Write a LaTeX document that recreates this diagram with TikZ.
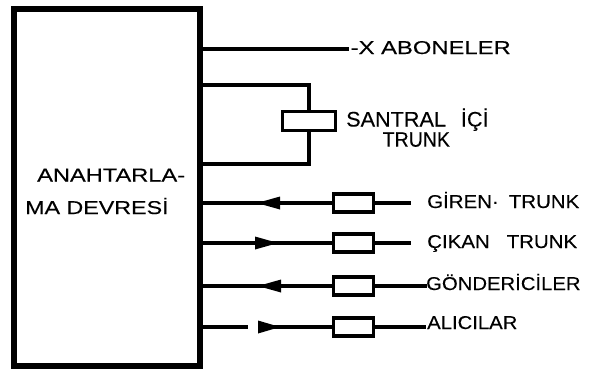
\documentclass[tikz,border=0pt]{standalone}
\usepackage{fontspec}
\setmainfont{Liberation Sans}
\begin{document}
\begin{tikzpicture}[x=1pt,y=-1pt,
  lab/.style={font=\fontsize{18.6}{20}\selectfont\addfontfeatures{FakeStretch=#1,FakeBold=0.2}, inner sep=0pt, anchor=base west},
  labbig/.style={font=\fontsize{21}{23}\selectfont\addfontfeatures{FakeStretch=#1,FakeBold=0.2}, inner sep=0pt, anchor=base west},
  lab/.default=1,
  wire/.style={line width=3.6pt},
  tbox/.style={draw, line width=3.6pt, minimum width=40pt, minimum height=18pt, inner sep=0pt},
  head/.style={fill=black}]
\useasboundingbox (0,0) rectangle (593,373);
% main switching block
\node[draw, line width=5.5pt, minimum width=186pt, minimum height=357pt, inner sep=0pt] (sw) at (107,187.5) {};
\node[lab=1.27] (t1) at (37,181.5) {ANAHTARLA-};
\node[lab=1.25] (t2) at (25,214) {MA DEVRESİ};
% subscribers
\coordinate (ab) at (349,49);
\draw[wire] (ab -| sw.east) -- (ab);
\node[lab=1.28] (tab) at (350.5,54) {-X ABONELER};
% intra-exchange trunk
\node[draw, line width=3.6pt, minimum width=53pt, minimum height=19pt, inner sep=0pt] (st) at (309,121) {};
\coordinate (sa) at (309,85);
\coordinate (sb) at (309,164);
\draw[wire] (sa -| sw.east) -- (sa) -- (st.north);
\draw[wire] (sb -| sw.east) -- (sb) -- (st.south);
\node[labbig=1.03] (ts1) at (346,126.5) {SANTRAL\hspace{15pt}İÇİ};
\node[labbig=0.93] (ts2) at (382.5,146.7) {TRUNK};
% trunk rows
\node[tbox] (b1) at (353.5,203) {};
\node[tbox] (b2) at (353.5,243) {};
\node[tbox] (b3) at (353.5,286) {};
\node[tbox] (b4) at (353.5,327) {};
\coordinate (e1) at (411,203);
\coordinate (e2) at (411,243);
\coordinate (e3) at (427,286);
\coordinate (e4) at (426,327);
\draw[wire] (b1.west -| sw.east) -- (b1.west);
\draw[wire] (b1.east) -- (e1);
\draw[wire] (b2.west -| sw.east) -- (b2.west);
\draw[wire] (b2.east) -- (e2);
\draw[wire] (b3.west -| sw.east) -- (b3.west);
\draw[wire] (b3.east) -- (e3);
\coordinate (g1) at (248,327);
\coordinate (g2) at (258,327);
\draw[wire] (b4.west -| sw.east) -- (g1);
\draw[wire] (g2) -- (b4.west);
\draw[wire] (b4.east) -- (e4);
% arrowheads
\coordinate (a1) at (257,203);
\coordinate (a2) at (278,243);
\coordinate (a3) at (258,286);
\coordinate (a4) at (280,327);
\fill[head] (a1) -- ++(23,-6.5) -- ++(0,13) -- cycle;
\fill[head] (a2) -- ++(-23,-6.5) -- ++(0,13) -- cycle;
\fill[head] (a3) -- ++(23,-6.5) -- ++(0,13) -- cycle;
\fill[head] (a4) -- ++(-22,-6.5) -- ++(0,13) -- cycle;
% labels
\node[lab=1.1] (l1) at (427,208) {GİREN·\hspace{10pt}TRUNK};
\node[lab=1.1] (l2) at (427,248) {ÇIKAN\hspace{17pt}TRUNK};
\node[lab=1.09] (l3) at (426,290) {GÖNDERİCİLER};
\node[lab=1.09] (l4) at (427,329) {ALICILAR};
\end{tikzpicture}
\end{document}
